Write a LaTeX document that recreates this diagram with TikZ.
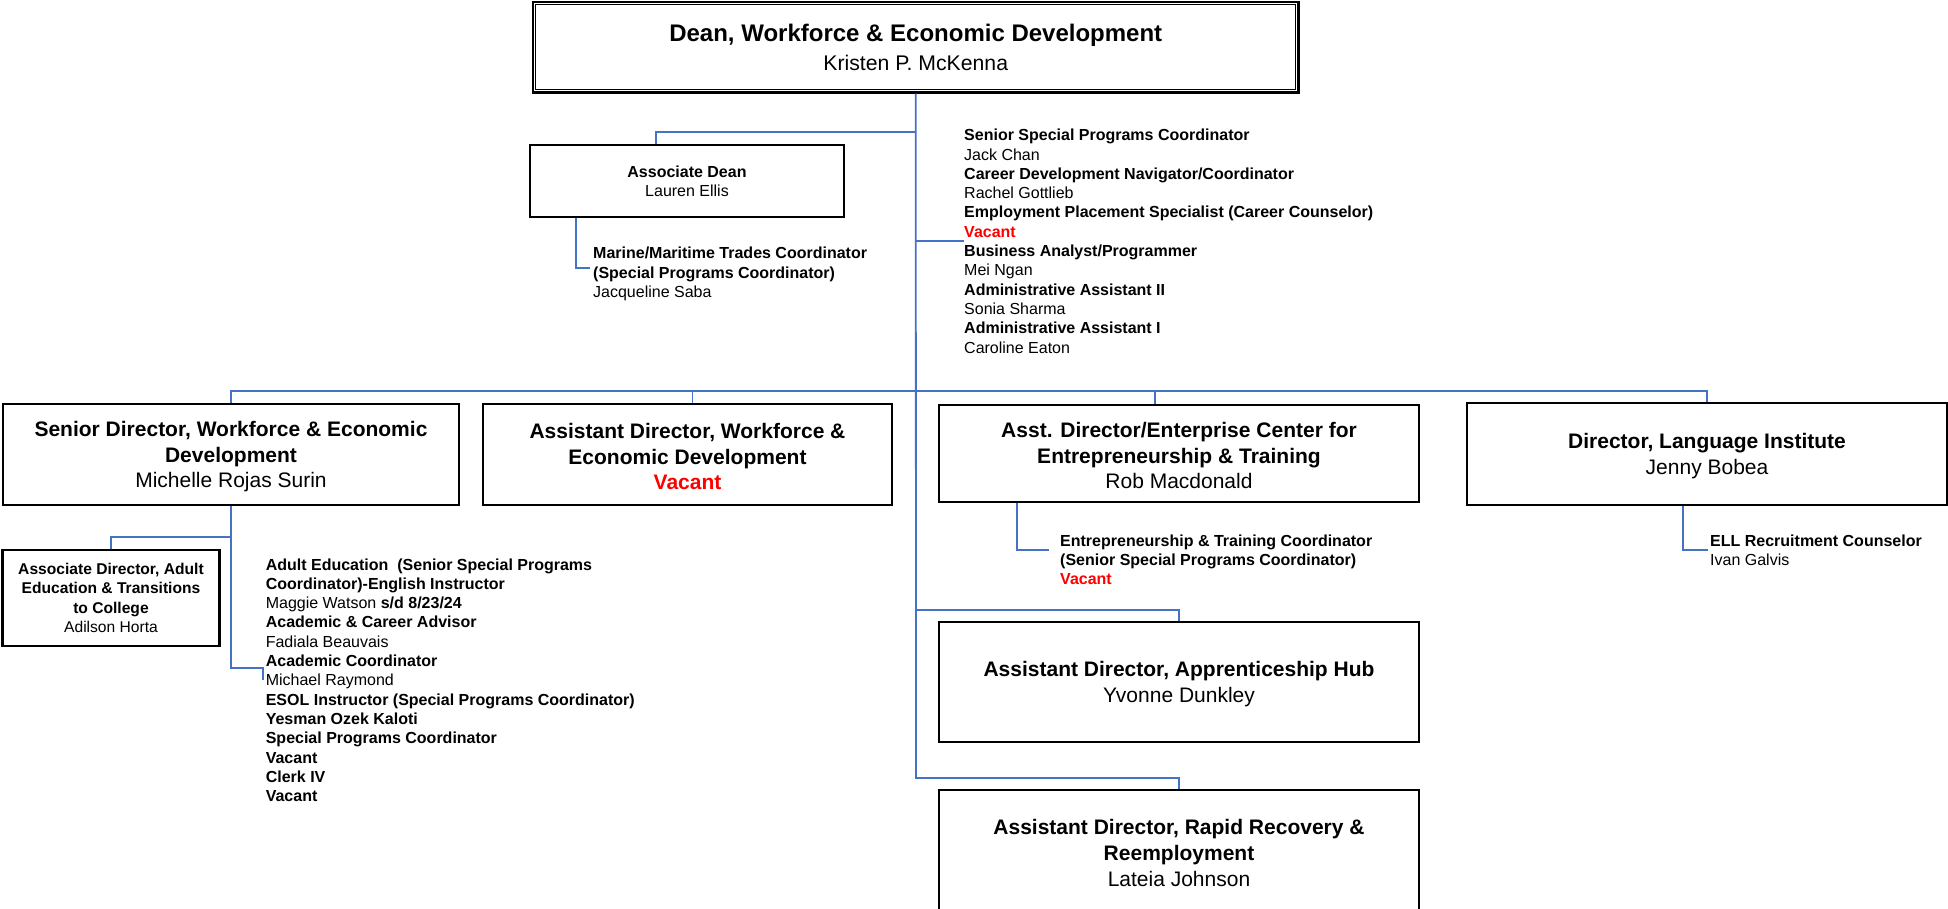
\documentclass[tikz,border=0pt]{standalone}
\usepackage{fontspec}
\setmainfont{Liberation Sans}
\definecolor{connblue}{HTML}{4472C4}
\definecolor{vacred}{HTML}{FF0000}
\newcommand\fsm{\fontsize{16}{19.3}\selectfont}
\newcommand\fmid{\fontsize{21}{25.8}\selectfont}
\newcommand\fbig{\fontsize{24}{28.6}\selectfont}
\newcommand\vac{\textcolor{vacred}{\bfseries Vacant}}
\newcommand\topr{\rule{0pt}{19.5pt}}
\begin{document}
\begin{tikzpicture}[x=1pt,y=-1pt,
  conn/.style={draw=connblue, line width=1.8pt},
  box/.style={draw=black, line width=2.4pt, rectangle, inner sep=0pt, align=center},
  txt/.style={inner sep=0pt, align=left, font=\fsm, anchor=north west}]
\useasboundingbox (0,0) rectangle (1948,909);
\clip (0,0) rectangle (1948,909);
% boxes
\node[box, line width=2.5pt, minimum width=765.5, minimum height=90.5, font=\fbig] (dean) at (915.75,47.25)
  {\textbf{Dean, Workforce \& Economic Development}\\{\fontsize{21.2}{28.6}\selectfont Kristen P. McKenna}};
\draw[line width=1.2pt] ([shift={(4,4)}]dean.north west) rectangle ([shift={(-4,-4)}]dean.south east);
\node[box, minimum width=314, minimum height=72, font=\fsm] (ad) at (687,181)
  {\textbf{Associate Dean}\\Lauren Ellis};
\node[box, minimum width=456, minimum height=101, font=\fmid] (sd) at (231,454.5)
  {\topr\textbf{Senior Director, Workforce \& Economic}\\\textbf{Development}\\Michelle Rojas Surin};
\node[box, minimum width=409, minimum height=101, font=\fmid] (awed) at (687.5,454.5)
  {\topr\textbf{Assistant Director, Workforce \&}\\\textbf{Economic Development}\\\vac};
\node[box, minimum width=480, minimum height=97, font=\fmid] (ent) at (1179,453.5)
  {\topr\textbf{Asst. Director/Enterprise Center for}\\\textbf{Entrepreneurship \& Training}\\Rob Macdonald};
\node[box, minimum width=480, minimum height=102, font=\fmid] (lid) at (1707,454)
  {\topr\textbf{Director, Language Institute}\\Jenny Bobea};
\node[box, minimum width=217, minimum height=96, font=\fontsize{15.6}{19.4}\selectfont] (adr) at (111,598)
  {\textbf{Associate Director, Adult}\\\textbf{Education \& Transitions}\\\textbf{to College}\\Adilson Horta};
\node[box, minimum width=480, minimum height=120, font=\fmid] (ah) at (1179,682)
  {\topr\textbf{Assistant Director, Apprenticeship Hub}\\Yvonne Dunkley};
\node[box, minimum width=480, minimum height=122, font=\fmid] (rr) at (1179,851)
  {\topr\textbf{Assistant Director, Rapid Recovery \&}\\\textbf{Reemployment}\\Lateia Johnson};
% text blocks
\node[txt] (staff) at (964,127) {\strut\textbf{Senior Special Programs Coordinator}\\
  Jack Chan\\
  \textbf{Career Development Navigator/Coordinator}\\
  Rachel Gottlieb\\
  \textbf{Employment Placement Specialist (Career Counselor)}\\
  \vac\\
  \textbf{Business Analyst/Programmer}\\
  Mei Ngan\\
  \textbf{Administrative Assistant II}\\
  Sonia Sharma\\
  \textbf{Administrative Assistant I}\\
  Caroline Eaton};
\node[txt] (marine) at (593,245) {\strut\textbf{Marine/Maritime Trades Coordinator}\\
  \textbf{(Special Programs Coordinator)}\\
  Jacqueline Saba};
\node[txt] (adulted) at (265.6,556.3) {\strut\textbf{Adult Education\ \ (Senior Special Programs}\\
  \textbf{Coordinator)-English Instructor}\\
  Maggie Watson \textbf{s/d 8/23/24}\\
  \textbf{Academic \& Career Advisor}\\
  Fadiala Beauvais\\
  \textbf{Academic Coordinator}\\
  Michael Raymond\\
  \textbf{ESOL Instructor (Special Programs Coordinator)}\\
  \textbf{Yesman Ozek Kaloti}\\
  \textbf{Special Programs Coordinator}\\
  \textbf{Vacant}\\
  \textbf{Clerk IV}\\
  \textbf{Vacant}};
\node[txt, font=\fontsize{16}{19}\selectfont] (entsub) at (1060,532.7) {\strut\textbf{Entrepreneurship \& Training Coordinator}\\
  \textbf{(Senior Special Programs Coordinator)}\\
  \vac};
\node[txt, font=\fontsize{16}{19}\selectfont] (lisub) at (1710,533) {\strut\textbf{ELL Recruitment Counselor}\\
  Ivan Galvis};
% coordinates
\coordinate (trunkend) at (916,778);
\coordinate (jad) at (916,132);
\coordinate (jst) at (916,241);
\coordinate (jah) at (916,610);
\coordinate (marineend) at (590,268);
\coordinate (sdturn) at (231,668);
\coordinate (sdhook) at (263,668);
\coordinate (sdhookend) at (263,680);
\coordinate (jadr) at (231,537);
\coordinate (entend) at (1049,550);
\coordinate (liend) at (1708,550);
% connectors
\draw[conn] (dean.south) -- (trunkend) -| (rr.north);
\draw[conn] (jad) -| ([xshift=-31]ad.north);
\draw[conn] (jst) -- (jst -| staff.west);
\draw[conn] (jah) -| (ah.north);
\draw[conn] (sd.north) -- ++(0,-11.5) -| (lid.north);
\draw[conn] ([xshift=5]awed.north) -- ++(0,-11.5);
\draw[conn] ([xshift=-24]ent.north) -- ++(0,-12.5);
\draw[conn] ([xshift=-111]ad.south) |- (marineend);
\draw[conn] (sd.south) -- (sdturn) -- (sdhook) -- (sdhookend);
\draw[conn] (jadr) -| (adr.north);
\draw[conn] ([xshift=-162]ent.south) |- (entend);
\draw[conn] ([xshift=-24]lid.south) |- (liend);
\end{tikzpicture}
\end{document}
